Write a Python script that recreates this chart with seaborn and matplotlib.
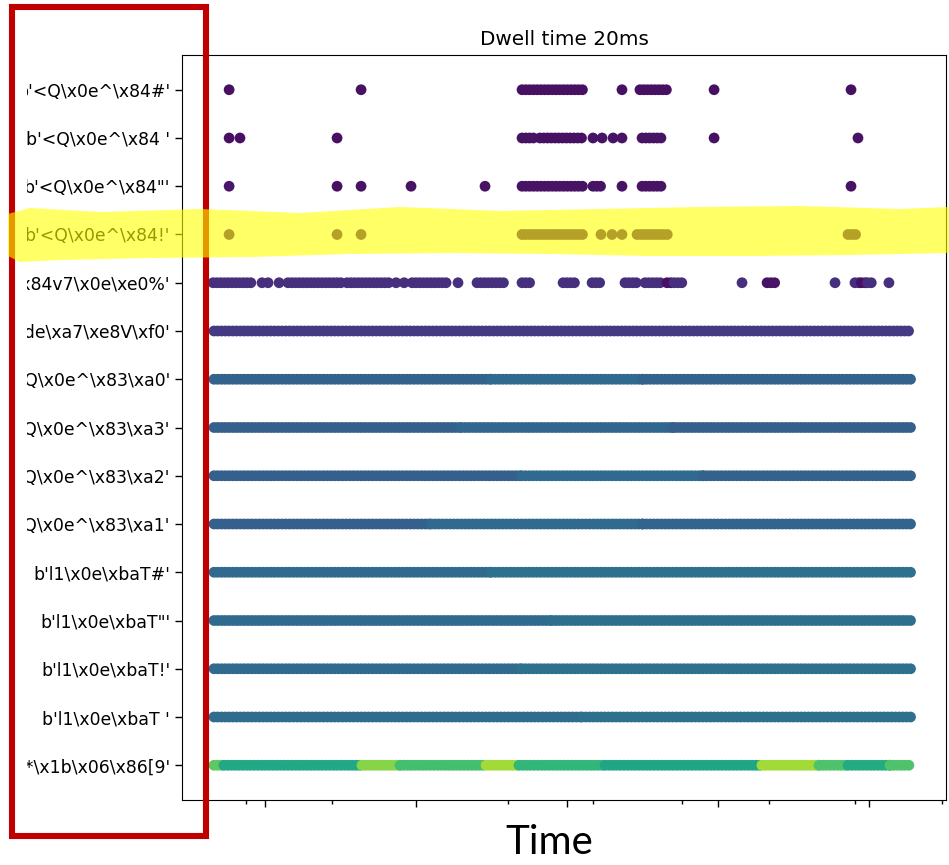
import numpy as np
import pandas as pd
import matplotlib
matplotlib.use("Agg")
import matplotlib.pyplot as plt
from matplotlib.patches import Rectangle, Polygon
from matplotlib.ticker import FixedLocator, NullFormatter
import seaborn as sns

# ---------------- data ----------------
# CAN message identifiers (rows, top to bottom)
labels = [
    "b'<Q\\x0e^\\x84#'",
    "b'<Q\\x0e^\\x84 '",
    "b'<Q\\x0e^\\x84\"'",
    "b'<Q\\x0e^\\x84!'",
    "b'\\x1e\\x84v7\\x0e\\xe0%'",
    "b'\\xde\\xa7\\xe8V\\xf0'",
    "b'<Q\\x0e^\\x83\\xa0'",
    "b'<Q\\x0e^\\x83\\xa3'",
    "b'<Q\\x0e^\\x83\\xa2'",
    "b'<Q\\x0e^\\x83\\xa1'",
    "b'l1\\x0e\\xbaT#'",
    "b'l1\\x0e\\xbaT\"'",
    "b'l1\\x0e\\xbaT!'",
    "b'l1\\x0e\\xbaT '",
    "b'*\\x1b\\x06\\x86[9'",
]

DWELL = 0.25  # sampling step of observations (time units)

# observed runs per message: (start time, end time, colour value)
spans_row0 = [(2.62, 2.62, .04), (11.36, 11.36, .04), (22.02, 26.19, .04),
              (28.64, 28.64, .04), (29.83, 31.62, .04), (34.74, 34.74, .04),
              (43.81, 43.81, .04)]
spans_row1 = [(2.62, 2.62, .04), (3.34, 3.34, .04), (9.77, 9.77, .04),
              (22.02, 22.88, .05), (23.21, 26.19, .04), (26.72, 26.72, .05),
              (27.32, 27.32, .05), (28.05, 28.05, .05), (28.64, 28.64, .05),
              (29.97, 31.36, .05), (34.74, 34.74, .04), (44.27, 44.27, .05)]
spans_row2 = [(2.62, 2.62, .06), (9.77, 9.77, .04), (11.36, 11.36, .05),
              (14.67, 14.67, .05), (19.57, 19.57, .05), (22.02, 26.19, .05),
              (26.72, 27.38, .05), (28.64, 28.64, .05), (29.97, 31.36, .05),
              (43.81, 43.81, .05)]
spans_row3 = [(2.62, 2.62, .05), (9.77, 9.77, .05), (11.36, 11.36, .05),
              (22.02, 26.19, .05), (27.25, 27.25, .05), (27.98, 27.98, .05),
              (28.64, 28.64, .05), (29.64, 31.69, .05), (43.61, 44.27, .05)]
spans_row4 = [(1.56, 4.21, .14), (4.80, 4.80, .14), (5.20, 5.20, .14),
              (5.93, 5.93, .14), (6.52, 10.17, .14), (10.43, 13.28, .14),
              (13.68, 13.68, .14), (14.21, 14.21, .14), (14.74, 17.12, .14),
              (17.78, 17.78, .14), (19.04, 21.03, .14), (22.02, 22.68, .14),
              (24.74, 25.66, .14), (26.66, 27.38, .14), (28.84, 29.70, .14),
              (30.17, 31.29, .14), (31.62, 31.90, .04), (32.10, 32.68, .14),
              (36.59, 36.59, .14), (38.25, 38.97, .05), (42.75, 42.75, .14),
              (44.07, 44.40, .14), (44.50, 44.80, .04), (44.90, 45.20, .14),
              (46.32, 46.32, .14)]
spans_row5 = [(1.62, 47.85, .17)]
spans_row6 = [(1.62, 20.0, .31), (20.0, 30.0, .34), (30.0, 47.85, .31)]
spans_row7 = [(1.62, 18.0, .30), (18.0, 32.0, .33), (32.0, 47.85, .30)]
spans_row8 = [(1.62, 22.0, .30), (22.0, 34.0, .34), (34.0, 47.85, .31)]
spans_row9 = [(1.62, 16.0, .30), (16.0, 30.0, .34), (30.0, 47.85, .32)]
spans_row10 = [(1.62, 20.0, .34), (20.0, 47.85, .37)]
spans_row11 = [(1.62, 24.0, .34), (24.0, 47.85, .36)]
spans_row12 = [(1.62, 22.0, .34), (22.0, 47.85, .37)]
spans_row13 = [(1.62, 26.0, .35), (26.0, 47.85, .37)]
spans_row14 = [(1.62, 2.28, .75), (2.28, 11.42, .60), (11.42, 13.94, .82),
               (13.94, 19.64, .70), (19.64, 21.82, .86), (21.82, 27.52, .66),
               (27.52, 37.91, .59), (37.91, 41.69, .86), (41.69, 43.61, .72),
               (43.61, 46.39, .61), (46.39, 47.85, .72)]

all_spans = [spans_row0, spans_row1, spans_row2, spans_row3, spans_row4,
             spans_row5, spans_row6, spans_row7, spans_row8, spans_row9,
             spans_row10, spans_row11, spans_row12, spans_row13, spans_row14]

major_ticks = [5, 15, 25, 35, 45]
minor_ticks = [3.74, 9.44, 21.09, 26.72, 32.62, 38.38, 44.07, 49.83]

# expand observed runs into individual observations at the dwell step
recs = []
for i, spans in enumerate(all_spans):
    for t0, t1, v in spans:
        ts = [t0] if t1 <= t0 else np.arange(t0, t1 + 1e-9, DWELL)
        for t in ts:
            recs.append((t, i, v))
df = pd.DataFrame(recs, columns=["time", "row", "value"])

# ---------------- plot ----------------
sns.set_style("ticks", {"axes.edgecolor": "black", "xtick.color": "black",
                        "ytick.color": "black", "text.color": "black"})
plt.rcParams["font.family"] = ["DejaVu Sans"]

W, H = 949, 865
fig = plt.figure(figsize=(W / 100, H / 100), dpi=100)
ax = fig.add_axes([182 / W, 65 / H, (946 - 182) / W, (800 - 55) / H])

sns.scatterplot(data=df, x="time", y="row", hue="value", palette="viridis",
                hue_norm=(0, 1), s=60, linewidth=0, legend=False, ax=ax)

ax.set_ylim(len(labels) - 1 + 0.72, -0.72)
ax.set_yticks(range(len(labels)))
ax.set_yticklabels(labels, fontsize=12.4)
ax.set_xlim(-0.5, 50.1)
ax.xaxis.set_major_locator(FixedLocator(major_ticks))
ax.xaxis.set_minor_locator(FixedLocator(minor_ticks))
ax.xaxis.set_major_formatter(NullFormatter())
ax.set_xlabel("")
ax.set_ylabel("")
ax.tick_params(axis="both", which="major", length=5, width=1)
ax.tick_params(axis="x", which="minor", length=3, width=1)
ax.set_title("Dwell time 20ms", fontsize=14.4, pad=7)

# big axis caption
fig.text(549 / W, 1 - 843 / H, "Time", fontsize=29, family=["Lato", "DejaVu Sans"],
         ha="center", va="center")

# cropped left edge (white), red annotation box and yellow highlight
fig.patches.append(Rectangle((0, 0), 27 / W, 1, transform=fig.transFigure,
                             facecolor="white", edgecolor="none", zorder=5))
fig.patches.append(Rectangle((11.5 / W, 1 - 836 / H), (205.5 - 11.5) / W, (836 - 7) / H,
                             transform=fig.transFigure, facecolor="none",
                             edgecolor="#c00000", linewidth=4.4, zorder=6))
hl_top = [(8, 214), (30, 208), (100, 212), (200, 209), (300, 213), (400, 207),
          (500, 211), (600, 209), (700, 207), (800, 206), (900, 209), (949, 207)]
hl_bot = [(949, 253), (850, 255), (750, 256), (650, 256), (550, 254), (450, 253),
          (350, 254), (250, 257), (150, 258), (60, 260), (20, 262), (8, 256)]
pts = [(x / W, 1 - y / H) for x, y in hl_top + hl_bot]
fig.patches.append(Polygon(pts, closed=True, transform=fig.transFigure,
                           facecolor="#ffff00", alpha=0.6, edgecolor="none", zorder=7))

fig.savefig("out.png", dpi=100)
